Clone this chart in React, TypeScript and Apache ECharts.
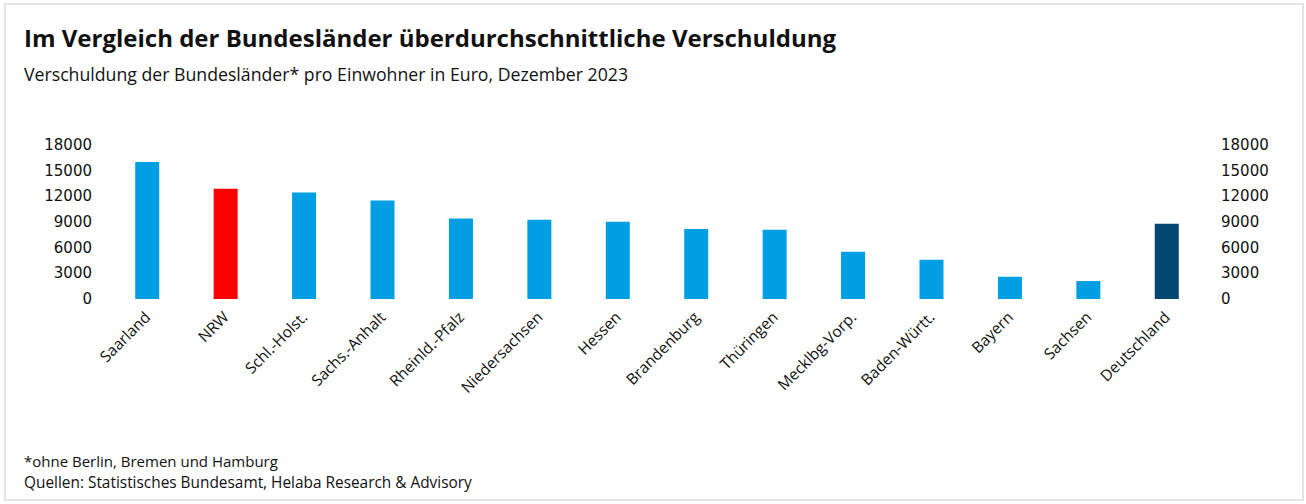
import React, { useEffect, useRef } from "react";
import * as echarts from "echarts";

const categories = [
  "Saarland",
  "NRW",
  "Schl.-Holst.",
  "Sachs.-Anhalt",
  "Rheinld.-Pfalz",
  "Niedersachsen",
  "Hessen",
  "Brandenburg",
  "Thüringen",
  "Mecklbg-Vorp.",
  "Baden-Württ.",
  "Bayern",
  "Sachsen",
  "Deutschland",
];
const values = [16000, 12900, 12450, 11500, 9400, 9270, 9030, 8180, 8100, 5530, 4600, 2600, 2100, 8800];
const highlightRed = ["NRW"];
const highlightDark = ["Deutschland"];

const title = "Im Vergleich der Bundesländer überdurchschnittliche Verschuldung";
const subtitle = "Verschuldung der Bundesländer* pro Einwohner in Euro, Dezember 2023";
const footnotes = [
  "*ohne Berlin, Bremen und Hamburg",
  "Quellen: Statistisches Bundesamt, Helaba Research & Advisory",
];

const BLUE = "#009fe3";
const RED = "#ff0000";
const DARK = "#004872";

export default function App() {
  const ref = useRef<HTMLDivElement>(null);
  useEffect(() => {
    if (!ref.current) return;
    const chart = echarts.init(ref.current, null, { renderer: "svg" });
    const font = "Open Sans, Noto Sans, sans-serif";
    const axisLabel = {
      color: "#111",
      fontSize: 15,
      fontFamily: "DejaVu Sans",
      formatter: (v: number) => String(v),
    };
    chart.setOption({
      animation: false,
      backgroundColor: "#fff",
      grid: { left: 108, right: 100, top: 145, bottom: 205, containLabel: false },
      xAxis: {
        type: "category",
        data: categories,
        axisLine: { show: false },
        axisTick: { show: false },
        axisLabel: {
          rotate: 45,
          margin: 15,
          color: "#111",
          fontSize: 15.5,
          fontFamily: font,
          interval: 0,
        },
      },
      yAxis: [
        {
          type: "value",
          min: 0,
          max: 18000,
          interval: 3000,
          position: "left",
          axisLine: { show: false },
          axisTick: { show: false },
          splitLine: { show: false },
          axisLabel: { ...axisLabel, margin: 16, align: "right" },
        },
        {
          type: "value",
          min: 0,
          max: 18000,
          interval: 3000,
          position: "right",
          axisLine: { show: false },
          axisTick: { show: false },
          splitLine: { show: false },
          axisLabel: { ...axisLabel, margin: 15, align: "left" },
        },
      ],
      series: [
        {
          type: "bar",
          barWidth: 24,
          yAxisIndex: 0,
          data: categories.map((c, i) => ({
            value: values[i],
            itemStyle: {
              color: highlightRed.includes(c) ? RED : highlightDark.includes(c) ? DARK : BLUE,
            },
          })),
        },
      ],
      graphic: [
        {
          type: "rect",
          shape: { x: 5, y: 4, width: 1298, height: 496 },
          style: { fill: "none", stroke: "#e4e4e4", lineWidth: 2 },
          silent: true,
        },
        {
          type: "text",
          left: 24,
          top: 25,
          style: {
            text: title,
            font: `bold 24px ${font}`,
            fill: "#111",
          },
        },
        {
          type: "text",
          left: 24,
          top: 65,
          style: {
            text: subtitle,
            font: `17.7px ${font}`,
            fill: "#111",
          },
        },
        {
          type: "text",
          left: 24,
          top: 453,
          style: {
            text: footnotes[0],
            font: `15px ${font}`,
            fill: "#111",
          },
        },
        {
          type: "text",
          left: 24,
          top: 475,
          style: {
            text: footnotes[1],
            font: `15.4px ${font}`,
            fill: "#111",
          },
        },
      ],
    });
    return () => chart.dispose();
  }, []);
  return (
    <div
      ref={ref}
      style={{ position: "absolute", left: 0, top: 0, width: 1306, height: 504 }}
    />
  );
}
